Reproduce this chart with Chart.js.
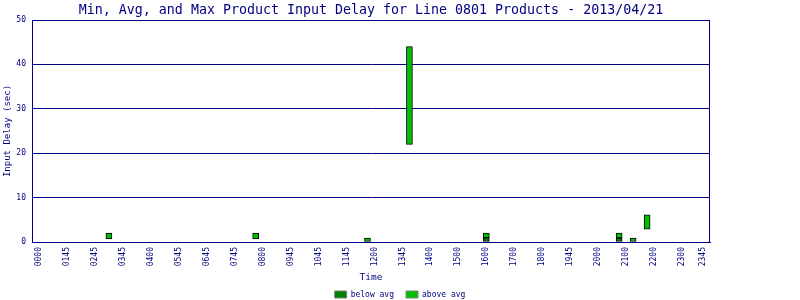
<!DOCTYPE html>
<html>
<head>
<meta charset="utf-8">
<title>Input Delay Line 0801</title>
<script src="https://cdn.jsdelivr.net/npm/chart.js@4/dist/chart.umd.min.js"></script>
<style>
    body { margin: 0; background: #ffffff; }
    #contenedor { width: 800px; height: 300px; }
</style>
</head>
<body>
<div id="contenedor"><canvas id="grafica" width="800" height="300"></canvas></div>
<script>
//Retardo de entrada por franja de 15 minutos
var horas = ['0230', '0745', '1145', '1315', '1600', '2045', '2115', '2145'];
var minimo = [0.7, 0.7, 0, 22, 0, 0, 0, 2.9];
var promedio = [0.7, 0.7, 0, 22, 1.0, 0.9, 0, 2.9];
var maximo = [2.0, 2.0, 0.9, 44, 2.0, 2.0, 0.9, 6.1];

//Etiquetas del eje x y la franja donde va cada una
var etiquetas = ['0000', '0145', '0245', '0345', '0400', '0545', '0645', '0745', '0800', '0945',
    '1045', '1145', '1200', '1345', '1400', '1500', '1600', '1700', '1800', '1945',
    '2000', '2100', '2200', '2300', '2345'];
var franjasEtiqueta = [0, 4, 8, 12, 16, 20, 24, 28, 32, 36, 40, 44, 48, 52, 56, 60,
    64, 68, 72, 76, 80, 84, 88, 92, 95];

var azul = '#000080';

function Franja(hora) {
    var h = parseInt(hora.substring(0, 2), 10);
    var m = parseInt(hora.substring(2, 4), 10);
    return h * 4 + m / 15;
}

var debajo = [];
var encima = [];
for (var i = 0; i < horas.length; i++) {
    var x = Franja(horas[i]);
    if (promedio[i] > minimo[i]) {
        debajo.push({ x: x, y: [minimo[i], promedio[i]] });
    }
    encima.push({ x: x, y: [promedio[i], maximo[i]] });
}

//Marco alrededor del area del grafico
var marco = {
    id: 'marco',
    afterDatasetsDraw: function (chart) {
        var a = chart.chartArea;
        var ctx = chart.ctx;
        ctx.save();
        ctx.strokeStyle = azul;
        ctx.lineWidth = 1;
        ctx.strokeRect(Math.round(a.left) + 0.5, Math.round(a.top) + 0.5,
            Math.round(a.right - a.left) - 1, Math.round(a.bottom - a.top));
        ctx.restore();
    }
};

var ctx = document.getElementById('grafica').getContext('2d');
var myChart = new Chart(ctx, {
    type: 'bar',
    data: {
        datasets: [
            {
                label: 'below avg',
                data: debajo,
                backgroundColor: '#008000',
                borderColor: '#000000',
                borderWidth: 1,
                borderSkipped: false,
                barThickness: 6,
                grouped: false
            },
            {
                label: 'above avg',
                data: encima,
                backgroundColor: '#00c000',
                borderColor: '#000000',
                borderWidth: 1,
                borderSkipped: false,
                barThickness: 6,
                grouped: false
            }
        ]
    },
    options: {
        responsive: false,
        animation: false,
        layout: { padding: { left: 0, right: 0, top: 0, bottom: -8.5 } },
        plugins: {
            title: {
                display: true,
                fullSize: false,
                text: 'Min, Avg, and Max Product Input Delay for Line 0801 Products - 2013/04/21',
                color: azul,
                font: { family: 'DejaVu Sans Mono', size: 13.3, weight: 'normal', lineHeight: 1 },
                padding: { top: 4, bottom: 2.7 }
            },
            legend: {
                position: 'bottom',
                labels: {
                    color: azul,
                    boxWidth: 12,
                    boxHeight: 7,
                    padding: 12,
                    font: { family: 'DejaVu Sans Mono', size: 8 },
                    generateLabels: function (chart) {
                        return chart.data.datasets.map(function (ds, i) {
                            return {
                                text: ds.label,
                                fillStyle: ds.backgroundColor,
                                strokeStyle: '#808080',
                                lineWidth: 1,
                                fontColor: azul,
                                datasetIndex: i
                            };
                        });
                    }
                }
            },
            tooltip: { enabled: false }
        },
        scales: {
            x: {
                type: 'linear',
                min: -1,
                max: 96,
                offset: false,
                afterFit: function (scale) { scale.height = 36.5; },
                afterBuildTicks: function (scale) {
                    scale.ticks = franjasEtiqueta.map(function (f) { return { value: f }; });
                },
                ticks: {
                    autoSkip: false,
                    minRotation: 90,
                    maxRotation: 90,
                    padding: 5,
                    color: azul,
                    font: { family: 'DejaVu Sans Mono', size: 8 },
                    callback: function (value) {
                        var k = franjasEtiqueta.indexOf(value);
                        return k >= 0 ? etiquetas[k] : '';
                    }
                },
                grid: { display: false, drawTicks: false, offset: false },
                border: { color: azul },
                title: {
                    display: true,
                    text: 'Time',
                    color: azul,
                    font: { family: 'DejaVu Sans Mono', size: 9.5, lineHeight: 1 },
                    padding: { top: 0, bottom: -4.2 }
                }
            },
            y: {
                min: 0,
                max: 50,
                afterFit: function (scale) { scale.width = 32; },
                ticks: {
                    stepSize: 10,
                    padding: 6,
                    color: azul,
                    font: { family: 'DejaVu Sans Mono', size: 8 }
                },
                grid: { color: azul, drawTicks: false },
                border: { color: azul },
                title: {
                    display: true,
                    text: 'Input Delay (sec)',
                    color: azul,
                    font: { family: 'DejaVu Sans Mono', size: 9 },
                    padding: { top: 2, bottom: 0 }
                }
            },
            //Espacio vacio a la derecha del grafico
            derecha: {
                position: 'right',
                afterFit: function (scale) { scale.width = 90; },
                ticks: { display: false },
                grid: { display: false, drawTicks: false },
                border: { display: false }
            }
        }
    },
    plugins: [marco]
});
</script>
</body>
</html>
